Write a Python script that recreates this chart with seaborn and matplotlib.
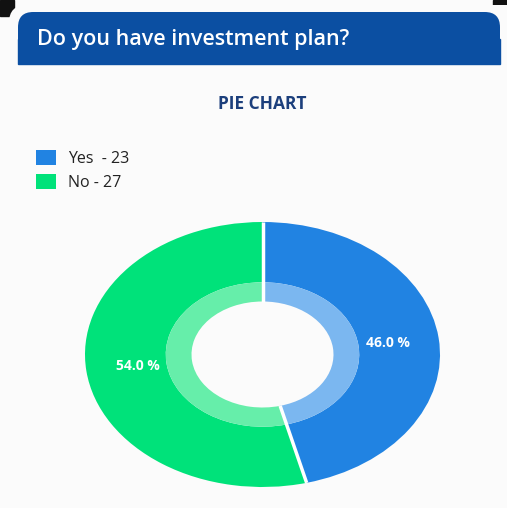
import matplotlib
matplotlib.use("Agg")
import matplotlib.pyplot as plt
from matplotlib.patches import FancyBboxPatch, Rectangle, Patch
import numpy as np
import seaborn as sns

categories = ["Yes", "No"]
counts = [23, 27]
legend_labels = ["Yes  - 23", "No - 27"]
title = "Do you have investment plan?"
subtitle = "PIE CHART"

outer_colors = ["#2183e2", "#00e27a"]
inner_colors = ["#7bb7f0", "#66eeaa"]

sns.set_theme(style="white")
plt.rcParams["font.family"] = ["Open Sans", "DejaVu Sans"]

W, H = 507, 508
fig = plt.figure(figsize=(W / 100, H / 100), dpi=100, facecolor="#fbfbfb")


def fx(x):
    return x / W


def fy(y):
    return 1 - y / H


# dark screen corners behind the card
for x0 in (0, W - 14):
    fig.patches.append(Rectangle((fx(x0), fy(16)), 14 / W, 16 / H,
                                 transform=fig.transFigure, color="#111111", zorder=0))
card = FancyBboxPatch((fx(9), fy(520)), (W - 18 + 40) / W, 515 / H,
                      boxstyle="round,pad=0,rounding_size=0.035",
                      transform=fig.transFigure, facecolor="#fbfbfb",
                      edgecolor="none", zorder=1)
fig.patches.append(card)

# header band
header = FancyBboxPatch((fx(18), fy(64)), (500 - 18) / W, 52 / H,
                        boxstyle="round,pad=0,rounding_size=0.03",
                        transform=fig.transFigure, facecolor="#0b4fa2",
                        edgecolor="none", zorder=2)
fig.patches.append(header)
fig.patches.append(Rectangle((fx(18), fy(64)), (500 - 18) / W, 25 / H,
                             transform=fig.transFigure, color="#0b4fa2", zorder=2))
fig.text(fx(37), fy(40), title, color="white", fontsize=15.5,
         fontweight="semibold", va="center", ha="left", zorder=3)

fig.text(fx(262), fy(104), subtitle, color="#1c3f7c", fontsize=12.5,
         fontweight="bold", va="center", ha="center", zorder=3)

# legend
handles = [Patch(facecolor=c, edgecolor="none") for c in outer_colors]
leg = fig.legend(handles, legend_labels, loc="upper left",
                 bbox_to_anchor=(fx(22), fy(136)), frameon=False,
                 fontsize=11.5, handlelength=1.25, handleheight=1.05,
                 handletextpad=0.75, labelspacing=0.45, labelcolor="#222222")
leg.set_zorder(3)

# donut
ax = fig.add_axes([fx(85), fy(487), (440 - 85) / W, (487 - 222) / H])
ax.set_zorder(3)
ax.patch.set_alpha(0)
wedges, _, autotexts = ax.pie(counts, colors=outer_colors, startangle=90,
                              counterclock=False, radius=1.0,
                              autopct="%.1f %%", pctdistance=0.71,
                              wedgeprops=dict(width=0.455, edgecolor="none",
                                              linewidth=0))
for t in autotexts:
    t.set_color("white")
    t.set_fontsize(10)
    t.set_fontweight("bold")
ax.pie(counts, colors=inner_colors, startangle=90, counterclock=False,
       radius=0.545, wedgeprops=dict(width=0.145, edgecolor="none", linewidth=0))

# white separators between slices, across both rings
bounds = 90 - 360 * np.cumsum([0] + counts[:-1]) / sum(counts)
for a in np.deg2rad(bounds):
    ax.plot([0.40 * np.cos(a), 1.0 * np.cos(a)], [0.40 * np.sin(a), 1.0 * np.sin(a)],
            color="white", lw=2.5, solid_capstyle="butt")

ax.set_aspect("auto")
ax.set_xlim(-1, 1)
ax.set_ylim(-1, 1)
ax.axis("off")

fig.savefig("out.png", dpi=100, facecolor=fig.get_facecolor())
